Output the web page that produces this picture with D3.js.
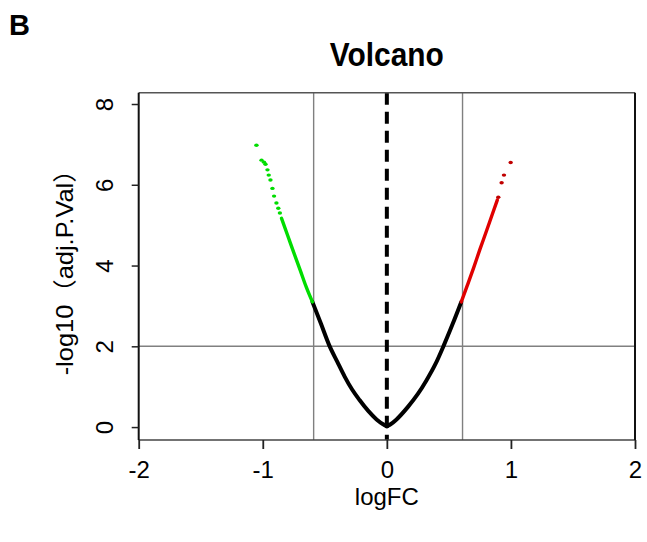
<!DOCTYPE html>
<html>
<head>
<meta charset="utf-8">
<script src="https://cdn.jsdelivr.net/npm/d3@7"></script>
<style>
  html, body { margin: 0; padding: 0; background: #fff; }
  svg { display: block; }
  text { font-family: "Liberation Sans", Arial, "Noto Sans CJK SC", sans-serif; fill: #000; }
</style>
</head>
<body>
<svg id="chart" width="647" height="542"></svg>
<script>
// ---- data ----
const panelLabel = "B";
const chartTitle = "Volcano";
const xLabel = "logFC";
const yLabel = "-log10（adj.P.Val）";
const xTicks = [-2, -1, 0, 1, 2];
const yTicks = [0, 2, 4, 6, 8];
const xDomain = [-2, 2];
const yDomain = [-0.32, 8.28];
const fcCutoffs = [-0.59, 0.61];   // vertical threshold lines
const pCutoff = 2;                 // horizontal threshold line

// not significant genes (black), dense curve
const nsLogFC = [-0.60, -0.53, -0.465, -0.40, -0.34, -0.28, -0.22, -0.15, -0.083, -0.03, 0,
                 0.03, 0.078, 0.17, 0.25, 0.32, 0.39, 0.46, 0.53, 0.60];
const nsLogP  = [3.10, 2.55, 2.03, 1.62, 1.25, 0.93, 0.67, 0.40, 0.19, 0.07, 0.02,
                 0.07, 0.19, 0.50, 0.82, 1.16, 1.55, 2.03, 2.55, 3.10];
// down-regulated genes (green): dense run then sparse points
const downDenseLogFC = [-0.60, -0.65, -0.70, -0.75, -0.80, -0.849];
const downDenseLogP  = [3.10, 3.47, 3.90, 4.32, 4.75, 5.17];
const downSparseLogFC = [-0.862, -0.875, -0.89, -0.909, -0.922, -0.938, -0.952, -0.962, -0.978, -0.99, -1.01, -1.051];
const downSparseLogP  = [5.30, 5.42, 5.55, 5.72, 5.91, 6.12, 6.24, 6.37, 6.51, 6.56, 6.61, 6.98];
// up-regulated genes (red): dense run then sparse points
const upDenseLogFC = [0.60, 0.65, 0.70, 0.75, 0.80, 0.85, 0.89];
const upDenseLogP  = [3.10, 3.52, 3.95, 4.40, 4.83, 5.27, 5.62];
const upSparseLogFC = [0.898, 0.925, 0.944, 0.998];
const upSparseLogP  = [5.69, 6.05, 6.24, 6.55];

// ---- layout ----
const svg = d3.select("#chart");
const x = d3.scaleLinear().domain(xDomain).range([138.7, 635]);
const y = d3.scaleLinear().domain(yDomain).range([440, 92.7]);
const [x0, x1] = x.range();
const [yb, yt] = y.range();

const zip = (a, b) => a.map((v, i) => [v, b[i]]);
const line = d3.line().x(d => x(d[0])).y(d => y(d[1])).curve(d3.curveMonotoneX);
const fmt = d => String(d);

// threshold lines
const g = svg.append("g");
fcCutoffs.forEach(v => {
  g.append("line").attr("x1", x(v)).attr("x2", x(v)).attr("y1", yt).attr("y2", yb)
    .attr("stroke", "#808080").attr("stroke-width", 1.4);
});
g.append("line").attr("x1", x0).attr("x2", x1).attr("y1", y(pCutoff)).attr("y2", y(pCutoff))
  .attr("stroke", "#808080").attr("stroke-width", 1.4);

// dashed line at logFC = 0
g.append("line").attr("x1", x(0)).attr("x2", x(0)).attr("y1", yt).attr("y2", yb)
  .attr("stroke", "#000").attr("stroke-width", 4).attr("stroke-dasharray", "12,7");

// black curve, two branches (cusp at 0)
const ns = zip(nsLogFC, nsLogP);
const left = ns.filter(d => d[0] <= 0);
const right = ns.filter(d => d[0] >= 0);
[left, right].forEach(br => {
  g.append("path").attr("d", line(br)).attr("fill", "none")
    .attr("stroke", "#000").attr("stroke-width", 4).attr("stroke-linecap", "round");
});

// green
g.append("path").attr("d", line(zip(downDenseLogFC, downDenseLogP))).attr("fill", "none")
  .attr("stroke", "#00dd00").attr("stroke-width", 3.4).attr("stroke-linecap", "round");
g.selectAll(".dn").data(zip(downSparseLogFC, downSparseLogP)).enter().append("ellipse")
  .attr("cx", d => x(d[0])).attr("cy", d => y(d[1])).attr("rx", 2.2).attr("ry", 1.7)
  .attr("fill", "#00dd00");

// red
g.append("path").attr("d", line(zip(upDenseLogFC, upDenseLogP))).attr("fill", "none")
  .attr("stroke", "#e00000").attr("stroke-width", 3.4).attr("stroke-linecap", "round");
g.selectAll(".up").data(zip(upSparseLogFC, upSparseLogP)).enter().append("ellipse")
  .attr("cx", d => x(d[0])).attr("cy", d => y(d[1])).attr("rx", 2.2).attr("ry", 1.7)
  .attr("fill", "#c00000");

// box
svg.append("line").attr("x1", x0).attr("x2", x1).attr("y1", yt).attr("y2", yt).attr("stroke", "#555").attr("stroke-width", 1.5);
svg.append("line").attr("x1", x0).attr("x2", x1).attr("y1", yb).attr("y2", yb).attr("stroke", "#444").attr("stroke-width", 1.5);
svg.append("line").attr("x1", x0).attr("x2", x0).attr("y1", yt).attr("y2", yb).attr("stroke", "#111").attr("stroke-width", 2);
svg.append("line").attr("x1", x1).attr("x2", x1).attr("y1", yt).attr("y2", yb).attr("stroke", "#111").attr("stroke-width", 2);

// x axis
const xa = svg.append("g").attr("transform", `translate(0,${yb})`)
  .call(d3.axisBottom(x).tickValues(xTicks).tickSize(9).tickFormat(fmt));
xa.select(".domain").remove();
xa.selectAll(".tick line").attr("stroke", "#222").attr("stroke-width", 1.8);
xa.selectAll(".tick text").attr("y", 38).attr("dy", 0).attr("font-size", 24)
  .style("font-family", "'Liberation Sans', Arial, sans-serif").attr("fill", "#111");

// y axis
const ya = svg.append("g").attr("transform", `translate(${x0},0)`)
  .call(d3.axisLeft(y).tickValues(yTicks).tickSize(7).tickFormat(fmt));
ya.select(".domain").remove();
ya.selectAll(".tick line").attr("stroke", "#222").attr("stroke-width", 1.5);
ya.selectAll(".tick text").attr("x", 0).attr("dy", 0).attr("text-anchor", "middle")
  .attr("transform", "translate(-25.7,0) rotate(-90)").attr("font-size", 24)
  .style("font-family", "'Liberation Sans', Arial, sans-serif").attr("fill", "#111");

// titles
svg.append("text").attr("x", x(0)).attr("y", 66).attr("text-anchor", "middle")
  .attr("font-size", 33).attr("font-weight", "bold")
  .attr("textLength", 114).attr("lengthAdjust", "spacingAndGlyphs").text(chartTitle);
svg.append("text").attr("x", 9).attr("y", 35).attr("font-size", 29).attr("font-weight", "bold").text(panelLabel);
svg.append("text").attr("x", x(0)).attr("y", 505).attr("text-anchor", "middle")
  .attr("font-size", 24).attr("fill", "#111").text(xLabel);
svg.append("text").attr("transform", `translate(73,${(yt + yb) / 2}) rotate(-90)`)
  .attr("text-anchor", "middle").attr("font-size", 24).attr("fill", "#111")
  .attr("textLength", 218).attr("lengthAdjust", "spacingAndGlyphs").text(yLabel);
</script>
</body>
</html>
